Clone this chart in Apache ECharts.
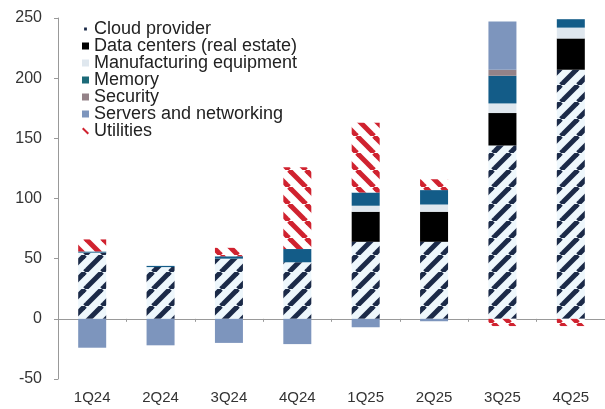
<!DOCTYPE html>
<html>
<head>
<meta charset="utf-8">
<script src="https://cdn.jsdelivr.net/npm/echarts@6/dist/echarts.min.js"></script>
<style>
html,body{margin:0;padding:0;background:#fff;}
#main{width:605px;height:409px;}
</style>
</head>
<body>
<div id="main"></div>
<script>
var categories = ['1Q24','2Q24','3Q24','4Q24','1Q25','2Q25','3Q25','4Q25'];
var cloudProvider = [55, 43, 50, 47, 64, 64, 144, 207];
var dataCenters = [0, 0, 0, 0, 25, 25, 27, 26];
var manufacturing = [0, 0, 0, 0, 5, 6, 8, 9];
var memory = [1, 1, 2, 11, 11, 12, 23, 7];
var security = [0, 0, 0, 0, 0, 0, 5, 0];
var servers = [-24, -22, -20, -21, -7, -2, 40, 0];
var utilities = [10, 0, 7, 68, 58, 9, -6, -6];
var yTicks = [-50, 0, 50, 100, 150, 200, 250];

function stripes(bg, fg, size, lw, dir) {
  var c = document.createElement('canvas');
  c.width = size; c.height = size;
  var ctx = c.getContext('2d');
  ctx.fillStyle = bg; ctx.fillRect(0, 0, size, size);
  ctx.strokeStyle = fg; ctx.lineWidth = lw;
  for (var k = -1; k <= 1; k++) {
    ctx.beginPath();
    if (dir === '/') { ctx.moveTo(k * size, size); ctx.lineTo(k * size + size, 0); }
    else { ctx.moveTo(k * size, 0); ctx.lineTo(k * size + size, size); }
    ctx.stroke();
  }
  return c;
}
var cloudPat = { image: stripes('#eef7fc', '#1b2a48', 17, 5, '/'), repeat: 'repeat' };
var utilPat = { image: stripes('#ffffff', '#d0222f', 17, 5, '\\'), repeat: 'repeat' };

var colors = {
  dc: '#000000', man: '#dfe7ee', mem: '#135c88', sec: '#948288', srv: '#7d95bd'
};

function bar(name, data, color) {
  return { name: name, type: 'bar', stack: 'a', barWidth: 28, data: data,
    itemStyle: { color: color }, emphasis: { disabled: true } };
}

var chart = echarts.init(document.getElementById('main'));
chart.setOption({
  animation: false,
  grid: { left: 58, right: -8, top: 18, bottom: 30, containLabel: false },
  legend: {
    orient: 'vertical', left: 82, top: 20, padding: 0, itemGap: -1, itemWidth: 7, itemHeight: 7,
    textStyle: { fontFamily: 'Liberation Sans', fontSize: 18, color: '#222', lineHeight: 17, padding: [0, 0, 0, 0] },
    data: [
      { name: 'Cloud provider', icon: 'path://M0,0h0.01v0.01h-0.01zM10,10h0.01v0.01h-0.01zM3,3h4v4h-4z', itemStyle: { color: '#1b2a48' } },
      { name: 'Data centers (real estate)', icon: 'rect', itemStyle: { color: colors.dc } },
      { name: 'Manufacturing equipment', icon: 'rect', itemStyle: { color: colors.man } },
      { name: 'Memory', icon: 'rect', itemStyle: { color: '#1c6a78' } },
      { name: 'Security', icon: 'rect', itemStyle: { color: colors.sec } },
      { name: 'Servers and networking', icon: 'rect', itemStyle: { color: colors.srv } },
      { name: 'Utilities', icon: 'path://M0,2L2,0L10,8L8,10Z', itemStyle: { color: '#d0222f' } }
    ]
  },
  xAxis: [
    { type: 'category', data: categories, position: 'bottom',
      axisLine: { show: false, onZero: false }, axisTick: { show: false },
      axisLabel: { margin: 11, fontFamily: 'Liberation Sans', fontSize: 15, color: '#333' } },
    { type: 'category', data: categories, position: 'bottom',
      axisLine: { show: true, onZero: true, lineStyle: { color: '#999', width: 1 } },
      axisTick: { show: true, length: 3, lineStyle: { color: '#999' } },
      axisLabel: { show: false } }
  ],
  yAxis: {
    type: 'value', min: -50, max: 250, interval: 50,
    axisLine: { show: true, lineStyle: { color: '#999' } },
    axisTick: { show: true, length: 4, lineStyle: { color: '#999' } },
    splitLine: { show: false },
    axisLabel: { margin: 16, fontFamily: 'Liberation Sans', fontSize: 16, color: '#333',
      formatter: function (v) { return yTicks.indexOf(v) >= 0 ? String(v) : ''; } }
  },
  series: [
    bar('Cloud provider', cloudProvider, cloudPat),
    bar('Data centers (real estate)', dataCenters, colors.dc),
    bar('Manufacturing equipment', manufacturing, colors.man),
    bar('Memory', memory, colors.mem),
    bar('Security', security, colors.sec),
    bar('Servers and networking', servers, colors.srv),
    bar('Utilities', utilities, utilPat)
  ]
});
</script>
</body>
</html>
